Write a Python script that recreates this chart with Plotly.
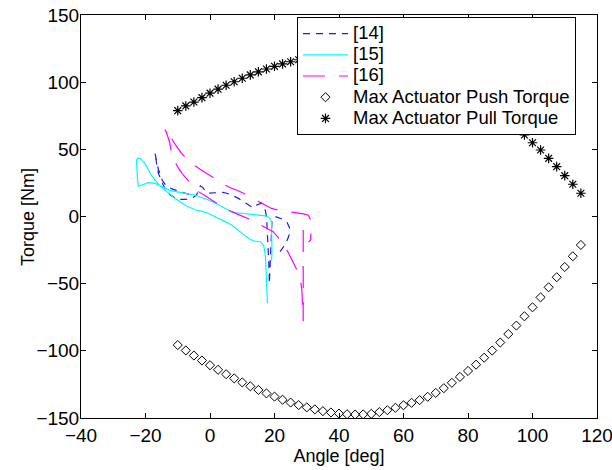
import plotly.graph_objects as go

# ---------------- data ----------------
angle_grid = [-10, -7.5, -5, -2.5, 0, 2.5, 5, 7.5, 10, 12.5, 15, 17.5, 20, 22.5, 25, 27.5,
              30, 32.5, 35, 37.5, 40, 42.5, 45, 47.5, 50, 52.5, 55, 57.5, 60, 62.5, 65, 67.5,
              70, 72.5, 75, 77.5, 80, 82.5, 85, 87.5, 90, 92.5, 95, 97.5, 100, 102.5, 105,
              107.5, 110, 112.5, 115]

push_torque = [-95.7, -99.7, -103.5, -107.2, -110.7, -114.1, -117.4, -120.5, -123.5, -126.4,
               -129.1, -131.7, -134.1, -136.4, -138.5, -140.4, -142.1, -143.6, -144.9, -145.9,
               -146.7, -147.2, -147.4, -147.3, -146.9, -145.6, -144.2, -142.4, -140.5, -138.7,
               -136.7, -134.2, -131.3, -127.8, -123.8, -119.4, -115.0, -110.3, -105.1, -99.8,
               -93.8, -87.5, -81.2, -74.3, -67.6, -60.2, -52.7, -45.2, -37.6, -29.6, -21.2]

pull_torque = [78.8, 82.3, 85.2, 88.5, 91.8, 94.8, 97.7, 100.3, 102.9, 105.4,
               107.7, 109.8, 111.8, 113.6, 115.2, 116.7, 118.2, 119.4, 120.4, 121.1,
               121.6, 121.8, 121.7, 121.4, 120.8, 120.0, 118.9, 117.5, 115.9, 114.0,
               111.9, 109.5, 106.8, 103.9, 100.7, 97.3, 93.6, 89.6, 85.4, 80.9,
               76.2, 71.4, 67.0, 60.7, 54.9, 49.5, 43.3, 37.1, 30.4, 24.0, 17.3]

# [14] blue dashed
ref14_angle = [-6.5, -9.3, -11.4, -13.5, -14.8, -16.0, -16.8, -17.1, -16.6, -16.0, -15.0, -14.0,
               -12.4, -9.8, -7.5, -5.5, -4.2, -3.4, -3.0, -2.2, -1.5, -0.5, 1.0, 2.6, 4.0, 5.2,
               6.7, 8.8, 10.3, 12.0, 13.4, 14.5, 16.0, 16.8, 17.3, 17.6, 17.8, 18.1, 18.3, 18.4,
               18.6, 18.9, 19.2, 20.2, 21.7, 23.0, 23.8, 24.6, 24.8, 24.3, 23.3, 22.5, 21.7]
ref14_torque = [16.5, 18.5, 20.2, 22.5, 27.0, 35.0, 43.0, 47.5, 40.0, 32.2, 26.0, 21.0,
                16.0, 12.8, 12.8, 13.8, 16.0, 20.0, 22.8, 21.5, 19.0, 17.3, 17.6, 18.0, 18.0, 17.3,
                16.0, 13.5, 11.0, 8.5, 6.5, 8.5, 10.0, 7.5, 3.0, -3.0, -12.0, -25.0, -38.0, -50.0,
                -35.0, -15.0, -4.0, 0.0, -1.2, -2.5, -4.0, -8.0, -11.5, -15.5, -21.0, -24.0, -26.2]

# [15] cyan solid
ref15_angle = [17.8, 17.6, 17.2, 16.7, 15.8, 13.5, 11.9, 10.5, 9.3, 8.0, 6.7, 5.0, 3.6, 1.5,
               -0.5, -2.5, -4.7, -7.8, -10.9, -14.0, -15.6, -17.1, -18.5, -19.6, -20.5, -21.5,
               -22.4, -22.8, -22.7, -22.5, -22.2, -21.0, -19.1, -17.0, -15.0, -12.5, -9.8, -7.0,
               -4.7, -2.5, -0.5, 1.5, 3.6, 5.2, 6.7, 8.2, 9.8, 12.4, 15.0, 17.1, 18.2, 18.9,
               19.1, 19.2, 19.2, 19.1]
ref15_torque = [-64.6, -47.0, -30.0, -22.0, -19.0, -18.2, -16.2, -13.5, -11.3, -8.5, -6.3, -4.2,
                -2.6, -0.2, 2.2, 3.8, 5.0, 8.6, 13.5, 19.7, 23.0, 27.2, 32.0, 37.1, 40.5, 43.0,
                43.5, 42.0, 36.0, 28.0, 22.5, 23.5, 25.2, 24.6, 22.3, 19.5, 18.2, 17.0,
                16.0, 14.0, 12.3, 10.0, 7.3, 5.3, 3.6, 2.8, 2.4, 1.2, 0.7, 0.4, -0.5, -2.5,
                -5.1, -15.0, -25.0, -33.0]

# [16] magenta long dashes
ref16_angle = [28.9, 28.9, 28.9, 28.9, 28.5, 27.9, 26.8, 25.8, 24.3, 22.7, 19.6, 17.6, 15.0,
               12.9, 9.8, 6.7, 4.0, 2.1, 0.5, -1.5, -3.6, -6.0, -8.3, -9.8, -10.9, -11.9, -12.6,
               -13.6, -14.2, -13.3, -12.2, -10.5, -8.8, -7.2, -5.0, -3.1, 0.0, 2.6, 4.5, 6.7, 8.8,
               11.0, 13.4, 16.0, 19.1, 21.5, 24.3, 26.4, 29.0, 30.5, 31.1, 31.3, 31.2, 30.6]
ref16_torque = [-10.0, -30.0, -50.0, -78.0, -55.0, -45.0, -39.0, -34.0, -27.0, -20.0, -11.3, -8.8,
                -5.5, -2.6, 0.5, 3.6, 7.2, 9.8, 12.3, 15.5, 18.5, 24.8, 30.9, 36.0, 40.8, 47.0, 56.0,
                63.0, 65.5, 63.5, 59.0, 52.5, 47.0, 42.6, 38.5, 35.1, 30.5, 26.7, 23.5, 21.0, 19.2,
                16.5, 13.5, 10.5, 6.0, 4.5, 3.6, 2.4, 2.0, 1.0, -2.0, -10.0, -17.5, -19.0]

series_names = ["[14]", "[15]", "[16]", "Max Actuator Push Torque", "Max Actuator Pull Torque"]

x_ticks = [-40, -20, 0, 20, 40, 60, 80, 100, 120]
y_ticks = [-150, -100, -50, 0, 50, 100, 150]
x_title = "Angle [deg]"
y_title = "Torque [Nm]"

FONT = "Liberation Sans, Arial, sans-serif"


def lg(name):
    # legend text drawn at 18.5px while the legend row height follows the 14px legend font
    return '<span style="font-size:18.5px">' + name + '</span>'


fig = go.Figure()
fig.add_trace(go.Scatter(x=ref14_angle, y=ref14_torque, mode="lines", name=lg(series_names[0]),
                         line=dict(color="rgb(30,30,240)", width=1.2, dash="7px,6px")))
fig.add_trace(go.Scatter(x=ref15_angle, y=ref15_torque, mode="lines", name=lg(series_names[1]),
                         line=dict(color="rgb(0,250,250)", width=1.2)))
fig.add_trace(go.Scatter(x=ref16_angle, y=ref16_torque, mode="lines", name=lg(series_names[2]),
                         line=dict(color="rgb(255,0,255)", width=1.2, dash="22px,14px")))
fig.add_trace(go.Scatter(x=angle_grid, y=push_torque, mode="markers",
                         name=lg(series_names[3]),
                         marker=dict(symbol="diamond-open", size=7, color="black",
                                     line=dict(width=1, color="black"))))
fig.add_trace(go.Scatter(x=angle_grid, y=pull_torque, mode="markers",
                         name=lg(series_names[4]),
                         marker=dict(symbol="asterisk-open", size=8, color="black",
                                     line=dict(width=1.2, color="black"))))

axis_common = dict(showline=True, linecolor="black", linewidth=1, mirror="ticks",
                   ticks="inside", ticklen=5, tickcolor="black", showgrid=False,
                   zeroline=False, automargin=False, ticklabeloverflow="allow",
                   tickfont=dict(family=FONT, size=19, color="black"))

fig.update_layout(
    template="none",
    width=612, height=470,
    margin=dict(l=81, r=15, t=15, b=52),
    paper_bgcolor="white", plot_bgcolor="white",
    font=dict(family=FONT, size=18, color="black"),
    xaxis=dict(range=[-40, 120], tickvals=x_ticks,
               title=dict(text=x_title, font=dict(family=FONT, size=18), standoff=0),
               **axis_common),
    yaxis=dict(range=[-150, 150], tickvals=y_ticks, ticklabelstandoff=-3,
               **axis_common),
    legend=dict(x=0.4186, y=0.995, xanchor="left", yanchor="top",
                bgcolor="white", bordercolor="black", borderwidth=1,
                font=dict(family=FONT, size=14, color="black"),
                tracegroupgap=0, itemwidth=45),
    showlegend=True,
    annotations=[dict(text=y_title, xref="paper", yref="paper", x=-0.1037, y=0.5,
                      xanchor="center", yanchor="middle", textangle=-90, showarrow=False,
                      font=dict(family=FONT, size=18, color="black"))],
)

fig.write_html("out.html")
